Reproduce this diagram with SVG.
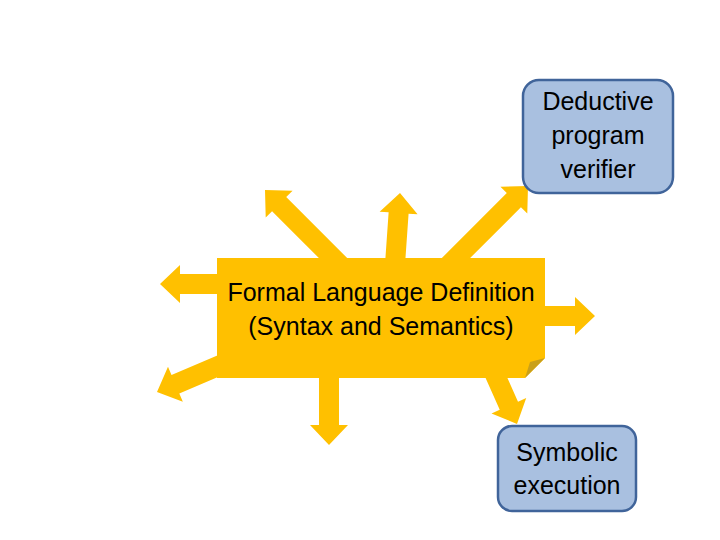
<svg xmlns="http://www.w3.org/2000/svg" width="720" height="540" viewBox="0 0 720 540">
<defs>
<style>
.arr{fill:#FFC000;}
.box{fill:#A9C0E0;stroke:#40649A;stroke-width:2.5;}
.t{font-family:"Liberation Sans",Arial,sans-serif;font-size:25px;fill:#000;text-anchor:middle;}
</style>
<path id="a" d="M0,0 L-20,-19 L-20,-10 L-120,-10 L-120,10 L-20,10 L-20,19 Z"/>
</defs>
<rect width="720" height="540" fill="#fff"/>
<g id="connectors" class="arr">
<use href="#a" transform="translate(265,190) rotate(225)"/>
<use href="#a" transform="translate(400,193) rotate(-86)"/>
<use href="#a" transform="translate(528,186) rotate(-45)"/>
<use href="#a" transform="translate(160,284) rotate(180)"/>
<use href="#a" transform="translate(595,316) rotate(0)"/>
<use href="#a" transform="translate(157,392) rotate(157)"/>
<use href="#a" transform="translate(329,445) rotate(90)"/>
<use href="#a" transform="translate(517,424) rotate(66)"/>
</g>
<g id="center">
<path d="M217,258 L545,258 L545,358 L525,378 L217,378 Z" fill="#FFC000"/>
<path d="M545,358 L530,362 L525,378 Z" fill="#C9A01A"/>
<text class="t" x="381" y="301">Formal Language Definition</text>
<text class="t" x="381" y="335">(Syntax and Semantics)</text>
</g>
<g id="deductive">
<rect class="box" x="523" y="80" width="150" height="113" rx="16"/>
<text class="t" x="598" y="110">Deductive</text>
<text class="t" x="598" y="144">program</text>
<text class="t" x="598" y="178">verifier</text>
</g>
<g id="symbolic">
<rect class="box" x="498" y="426" width="138" height="85" rx="14"/>
<text class="t" x="567" y="461">Symbolic</text>
<text class="t" x="567" y="494">execution</text>
</g>
</svg>
